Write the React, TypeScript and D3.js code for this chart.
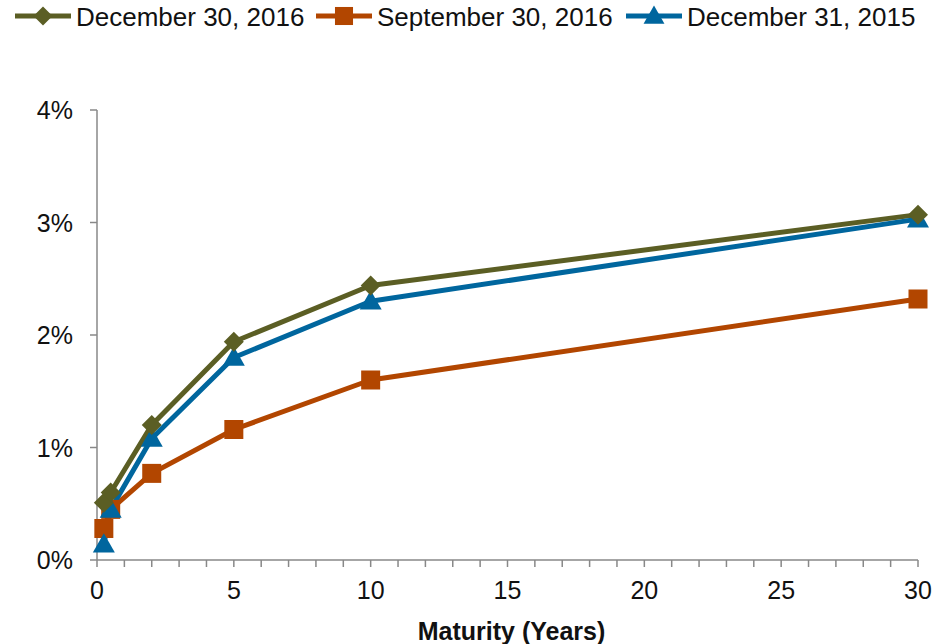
import React from "react";
import * as d3 from "d3";

const maturities = [0.25, 0.5, 2, 5, 10, 30];
const dec2016 = [0.51, 0.6, 1.2, 1.94, 2.44, 3.07];
const sep2016 = [0.28, 0.45, 0.77, 1.16, 1.6, 2.32];
const dec2015 = [0.14, 0.45, 1.08, 1.8, 2.3, 3.03];
const seriesNames = ["December 30, 2016", "September 30, 2016", "December 31, 2015"];
const seriesColors = ["#5B5E24", "#B24600", "#00669E"];
const seriesSymbols = ["diamond", "square", "triangle"];
const yTicks = [0, 1, 2, 3, 4];
const xLabelTicks = [0, 5, 10, 15, 20, 25, 30];
const xMinorTicks = d3.range(0, 31, 1);

const W = 948;
const H = 644;

function Marker({ type, x, y, color, k = 1 }: { type: string; x: number; y: number; color: string; k?: number }) {
  if (type === "diamond") {
    const r = 10 * k;
    return <path d={`M${x},${y - r}L${x + r},${y}L${x},${y + r}L${x - r},${y}Z`} fill={color} />;
  }
  if (type === "square") {
    const s = 9.5 * k;
    return <rect x={x - s} y={y - s} width={2 * s} height={2 * s} fill={color} />;
  }
  const r = 11 * k;
  return <path d={`M${x},${y - r}L${x + r},${y + r * 0.75}L${x - r},${y + r * 0.75}Z`} fill={color} />;
}

export default function App() {
  const x = d3.scaleLinear().domain([0, 30]).range([97, 918]);
  const y = d3.scaleLinear().domain([0, 4]).range([560, 110]);
  const seriesData = [dec2016, sep2016, dec2015];
  const line = d3
    .line<[number, number]>()
    .x((d) => x(d[0]))
    .y((d) => y(d[1]));

  const legendStarts = [15, 316, 626];
  const font = "'Liberation Sans', Arial, sans-serif";

  return (
    <svg
      width={W}
      height={H}
      style={{ position: "absolute", left: 0, top: 0, background: "#fff" }}
      fontFamily={font}
    >
      {/* axes */}
      <line x1={x(0)} x2={x(0)} y1={y(4)} y2={y(0)} stroke="#888" strokeWidth={1.5} />
      <line x1={x(0)} x2={x(30)} y1={y(0)} y2={y(0)} stroke="#888" strokeWidth={1.5} />
      {yTicks.map((t) => (
        <g key={"y" + t}>
          <line x1={x(0) - 7} x2={x(0)} y1={y(t)} y2={y(t)} stroke="#888" strokeWidth={1.5} />
          <text x={73} y={y(t) + 9} textAnchor="end" fontSize={25} fill="#111">
            {t + "%"}
          </text>
        </g>
      ))}
      {xMinorTicks.map((t) => (
        <line key={"xt" + t} x1={x(t)} x2={x(t)} y1={y(0)} y2={y(0) + 7} stroke="#888" strokeWidth={1.5} />
      ))}
      {xLabelTicks.map((t) => (
        <text key={"xl" + t} x={x(t)} y={599} textAnchor="middle" fontSize={25} fill="#111">
          {t}
        </text>
      ))}
      <text x={(x(0) + x(30)) / 2 + 4} y={640} textAnchor="middle" fontSize={25} fontWeight="bold" fill="#111">
        Maturity (Years)
      </text>

      {/* series */}
      {seriesData.map((vals, i) => {
        const pts: [number, number][] = maturities.map((m, j) => [m, vals[j]]);
        return (
          <g key={"s" + i}>
            <path d={line(pts) || ""} fill="none" stroke={seriesColors[i]} strokeWidth={5} strokeLinejoin="round" />
          </g>
        );
      })}
      {[1, 2, 0].map((i) => {
        const vals = seriesData[i];
        return (
          <g key={"m" + i}>
            {maturities.map((m, j) => (
              <Marker key={j} type={seriesSymbols[i]} x={x(m)} y={y(vals[j])} color={seriesColors[i]} />
            ))}
          </g>
        );
      })}

      {/* legend */}
      {seriesNames.map((name, i) => {
        const lx = legendStarts[i];
        return (
          <g key={"l" + i}>
            <line x1={lx} x2={lx + 56} y1={16} y2={16} stroke={seriesColors[i]} strokeWidth={5} />
            <Marker type={seriesSymbols[i]} x={lx + 28} y={16} color={seriesColors[i]} k={0.95} />
            <text x={lx + 61} y={26} fontSize={26} fill="#111">
              {name}
            </text>
          </g>
        );
      })}
    </svg>
  );
}
